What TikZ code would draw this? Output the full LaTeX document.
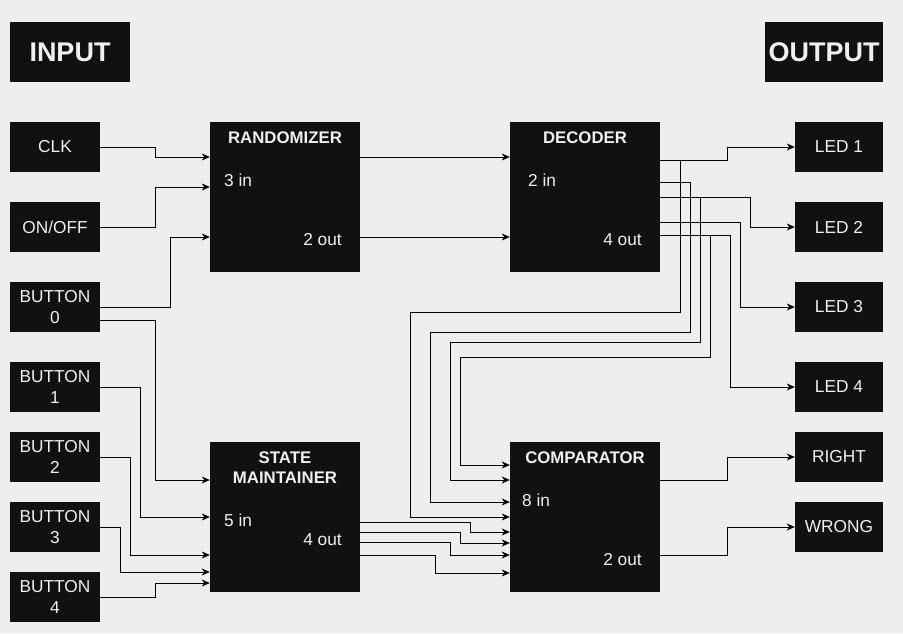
\documentclass[tikz,border=0pt]{standalone}
\usepackage{fontspec}
\setmainfont{Liberation Sans}
\usetikzlibrary{arrows.meta}
\definecolor{bg}{HTML}{EEEEEE}
\definecolor{boxc}{HTML}{111111}
\definecolor{txt}{HTML}{F0F0F0}
\begin{document}
\begin{tikzpicture}[x=1pt,y=-1pt,
  blk/.style={fill=boxc, inner sep=0pt, text=txt, font=\fontsize{17.3}{21.5}\selectfont, align=center},
  small/.style={blk, minimum width=90pt, minimum height=50pt},
  led/.style={blk, minimum width=88pt, minimum height=50pt},
  big/.style={fill=boxc, inner sep=0pt, minimum width=150pt, minimum height=150pt},
  hdr/.style={fill=boxc, inner sep=0pt, text=txt, font=\fontsize{27}{30}\selectfont\bfseries, minimum height=60pt},
  lbl/.style={inner sep=0pt, text=txt, font=\fontsize{17.3}{20}\selectfont},
  ttl/.style={inner sep=0pt, text=txt, font=\fontsize{16.8}{20}\selectfont\bfseries, align=center},
  conn/.style={draw=black, line width=1pt, -{Stealth[length=8pt,width=7pt,inset=2.5pt]}},
]
\fill[bg] (0,0) rectangle (903,633);
\useasboundingbox (0,0) rectangle (903,633);

% headers
\node[hdr, minimum width=120pt] (input) at (70,52) {INPUT};
\node[hdr, minimum width=118pt] (output) at (824,52) {OUTPUT};

% inputs
\node[small] (clk) at (55,147) {CLK};
\node[small] (onoff) at (55,227) {ON/OFF};
\node[small] (b0) at (55,307) {BUTTON\\0};
\node[small] (b1) at (55,387) {BUTTON\\1};
\node[small] (b2) at (55,457) {BUTTON\\2};
\node[small] (b3) at (55,527) {BUTTON\\3};
\node[small] (b4) at (55,597) {BUTTON\\4};

% outputs
\node[led] (led1) at (839,147) {LED 1};
\node[led] (led2) at (839,227) {LED 2};
\node[led] (led3) at (839,307) {LED 3};
\node[led] (led4) at (839,387) {LED 4};
\node[led] (right) at (839,457) {RIGHT};
\node[led] (wrong) at (839,527) {WRONG};

% big blocks
\node[big] (rand) at (285,197) {};
\node[big] (dec) at (585,197) {};
\node[big] (sm) at (285,517) {};
\node[big] (comp) at (585,517) {};

\node[ttl] (randt) at (285,138) {RANDOMIZER};
\node[lbl, anchor=west] (randi) at (224,180) {3 in};
\node[lbl, anchor=east] (rando) at (342,240) {2 out};

\node[ttl] (dect) at (585,138) {DECODER};
\node[lbl, anchor=west] (deci) at (528,180) {2 in};
\node[lbl, anchor=east] (deco) at (642,240) {4 out};

\node[ttl] (smt) at (285,468) {STATE\\MAINTAINER};
\node[lbl, anchor=west] (smi) at (224,520) {5 in};
\node[lbl, anchor=east] (smo) at (342,540) {4 out};

\node[ttl] (compt) at (585,458) {COMPARATOR};
\node[lbl, anchor=west] (compi) at (522,500) {8 in};
\node[lbl, anchor=east] (compo) at (642,560) {2 out};

% inputs -> randomizer
\draw[conn] (clk.east) -- ++(55,0) |- (rand.west |- 0,157);
\draw[conn] (onoff.east) -- ++(55,0) |- (rand.west |- 0,187);
\draw[conn] (b0.east |- 0,307) -- ++(70,0) |- (rand.west |- 0,237);

% inputs -> state maintainer
\draw[conn] (b0.east |- 0,320) -- ++(55,0) |- (sm.west |- 0,480);
\draw[conn] (b1.east |- 0,387) -- ++(40,0) |- (sm.west |- 0,517);
\draw[conn] (b2.east |- 0,457) -- ++(30,0) |- (sm.west |- 0,555);
\draw[conn] (b3.east |- 0,527) -- ++(20,0) |- (sm.west |- 0,572);
\draw[conn] (b4.east |- 0,597) -- ++(55,0) |- (sm.west |- 0,583);

% randomizer -> decoder
\draw[conn] (rand.east |- 0,157) -- (dec.west |- 0,157);
\draw[conn] (rand.east |- 0,237) -- (dec.west |- 0,237);

% decoder -> LEDs
\draw[conn] (dec.east |- 0,160) -- ++(67,0) |- (led1.west);
\draw[conn] (dec.east |- 0,197) -- ++(90,0) |- (led2.west);
\draw[conn] (dec.east |- 0,222) -- ++(80,0) |- (led3.west);
\draw[conn] (dec.east |- 0,235) -- ++(70,0) |- (led4.west);

% decoder -> comparator
\draw[conn] (dec.east |- 0,160) -| (680,312) -| (410,517) -- (comp.west |- 0,517);
\draw[conn] (dec.east |- 0,182) -| (690,332) -| (430,502) -- (comp.west |- 0,502);
\draw[conn] (dec.east |- 0,197) -| (700,342) -| (450,480) -- (comp.west |- 0,480);
\draw[conn] (dec.east |- 0,235) -| (710,357) -| (460,465) -- (comp.west |- 0,465);

% state maintainer -> comparator
\draw[conn] (sm.east |- 0,522) -| (470,532) -- (comp.west |- 0,532);
\draw[conn] (sm.east |- 0,532) -| (460,543) -- (comp.west |- 0,543);
\draw[conn] (sm.east |- 0,542) -| (450,555) -- (comp.west |- 0,555);
\draw[conn] (sm.east |- 0,555) -| (435,573) -- (comp.west |- 0,573);

% comparator -> outputs
\draw[conn] (comp.east |- 0,480) -- ++(67,0) |- (right.west);
\draw[conn] (comp.east |- 0,555) -- ++(67,0) |- (wrong.west);
\end{tikzpicture}
\end{document}
